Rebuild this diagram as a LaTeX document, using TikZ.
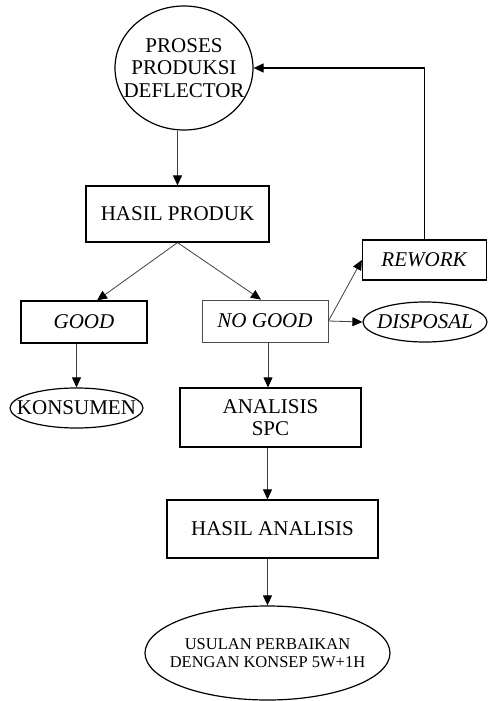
\documentclass[tikz,border=0pt]{standalone}
\usepackage{fontspec}
\setmainfont{Liberation Serif}
\usetikzlibrary{arrows.meta}
\usetikzlibrary{shapes.geometric}
\newcommand{\bigtext}{\fontsize{21}{22.5}\selectfont}
\newcommand{\smalltext}{\fontsize{16.5}{18}\selectfont}
\tikzset{box/.style = {draw, line width=1.2pt, inner sep=0}}
\tikzset{oval/.style = {draw, ellipse, line width=1.2pt, inner sep=0}}
\tikzset{lbl/.style = {align=center, inner sep=0, font=\bigtext}}
\tikzset{flow/.style = {draw=black!75, line width=0.8pt,
                        -{Triangle[length=10pt, width=9pt, color=black]}}}

\begin{document}
\begin{tikzpicture}[x=1pt, y=-1pt, font=\bigtext]
    \useasboundingbox (0, 0) rectangle (487, 701);

    \node [oval, minimum width=138pt, minimum height=124pt,
           label={[lbl]center:PROSES\\PRODUKSI\\DEFLECTOR}] (proses) at (184, 68) {};
    \node [box, minimum width=183pt, minimum height=56pt] (hasil) at (177.5, 214) {HASIL PRODUK};

    \node [box, minimum width=126pt, minimum height=42pt] (good) at (84, 322) {\textit{GOOD}};
    \node [box, draw=black!70, line width=0.9pt, minimum width=126pt, minimum height=42pt]
          (nogood) at (265, 321) {\textit{NO GOOD}};
    \node [box, minimum width=124pt, minimum height=40pt] (rework) at (424.5, 260) {\textit{REWORK}};
    \node [oval, minimum width=124pt, minimum height=40pt,
           label={[lbl]center:\textit{DISPOSAL}}] (disposal) at (425, 322) {};
    \node [oval, minimum width=133pt, minimum height=40pt,
           label={[lbl]center:KONSUMEN}] (konsumen) at (76.5, 408) {};

    \node [box, align=center, minimum width=181pt, minimum height=59pt] (analisis) at (270.5, 417.5) {ANALISIS\\SPC};
    \node [box, minimum width=211pt, minimum height=58pt] (hasilanalisis) at (272.5, 529) {HASIL ANALISIS};
    \node [oval, minimum width=245pt, minimum height=94pt,
           label={[lbl, font=\smalltext]center:USULAN PERBAIKAN\\DENGAN KONSEP 5W+1H}] (usulan) at (267.5, 653) {};

    % arrows
    \draw [flow] (proses.south -| hasil.north) -- (hasil.north);
    \draw [flow] (hasil.south) -- ([xshift=13pt]good.north);
    \draw [flow] (hasil.south) -- ([xshift=-4pt]nogood.north);
    \draw [flow] (konsumen.north |- good.south) -- (konsumen.north);
    \draw [flow] ([xshift=3pt]nogood.south) -- ([xshift=-2.5pt]analisis.north);
    \draw [flow] (nogood.east) -- (rework.west);
    \draw [flow] (nogood.east) -- (disposal.west);
    \draw [flow, draw=black, line width=1.2pt] (rework.north) |- (proses.east);
    \draw [flow] (usulan.north |- analisis.south) -- (usulan.north |- hasilanalisis.north);
    \draw [flow] (usulan.north |- hasilanalisis.south) -- (usulan.north);
\end{tikzpicture}
\end{document}
